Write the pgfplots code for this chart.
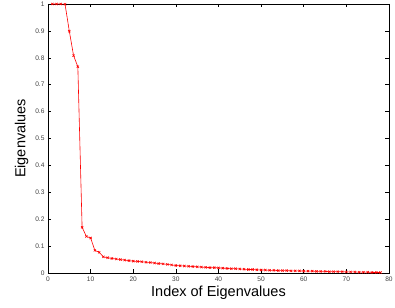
\documentclass[border=0pt]{standalone}
\usepackage{pgfplots}
\pgfplotsset{compat=1.18}
\usepackage{fontspec}
\setmainfont{Liberation Sans}
\begin{document}
\begin{tikzpicture}[x=1pt,y=1pt]
\path[use as bounding box] (-48,-34) rectangle (347,273);
\begin{axis}[
  at={(0,0)}, anchor=south west,
  scale only axis, width=341pt, height=269pt,
  xmin=0, xmax=80, ymin=0, ymax=1,
  xtick={0,10,...,80},
  ytick={0,0.1,...,1},
  yticklabels={0,0.1,0.2,0.3,0.4,0.5,0.6,0.7,0.8,0.9,1},
  tick align=inside,
  major tick length=3.5pt,
  tick style={black, line width=0.5pt},
  axis line style={line width=0.8pt},
  ticklabel style={font=\fontsize{6.6}{7.5}\selectfont, text=black!75},
  /pgf/number format/assume math mode=true,
  xlabel={Index of Eigenvalues},
  ylabel={Eigenvalues},
  label style={font=\fontsize{14.5}{16}\selectfont},
  xlabel style={yshift=2pt},
  ylabel style={yshift=0pt},
]
\addplot[red, line width=0.6pt, mark=x, mark size=1.6pt] coordinates {
(1,1.000)(2,1.000)(3,1.000)(4,0.999)(5,0.899)(6,0.808)(7,0.767)(8,0.170)(9,0.136)(10,0.130)
(11,0.084)(12,0.077)(13,0.060)(14,0.057)(15,0.054)(16,0.052)(17,0.050)(18,0.048)(19,0.046)(20,0.044)
(21,0.043)(22,0.042)(23,0.040)(24,0.039)(25,0.037)(26,0.035)(27,0.034)(28,0.032)(29,0.030)(30,0.028)
(31,0.027)(32,0.026)(33,0.025)(34,0.024)(35,0.023)(36,0.022)(37,0.021)(38,0.020)(39,0.020)(40,0.019)
(41,0.018)(42,0.017)(43,0.016)(44,0.016)(45,0.015)(46,0.014)(47,0.013)(48,0.013)(49,0.012)(50,0.011)
(51,0.011)(52,0.010)(53,0.010)(54,0.009)(55,0.009)(56,0.009)(57,0.008)(58,0.008)(59,0.008)(60,0.007)
(61,0.007)(62,0.007)(63,0.006)(64,0.006)(65,0.006)(66,0.005)(67,0.005)(68,0.005)(69,0.005)(70,0.004)
(71,0.004)(72,0.004)(73,0.003)(74,0.003)(75,0.003)(76,0.002)(77,0.002)(78,0.002)
};
\end{axis}
\end{tikzpicture}
\end{document}
